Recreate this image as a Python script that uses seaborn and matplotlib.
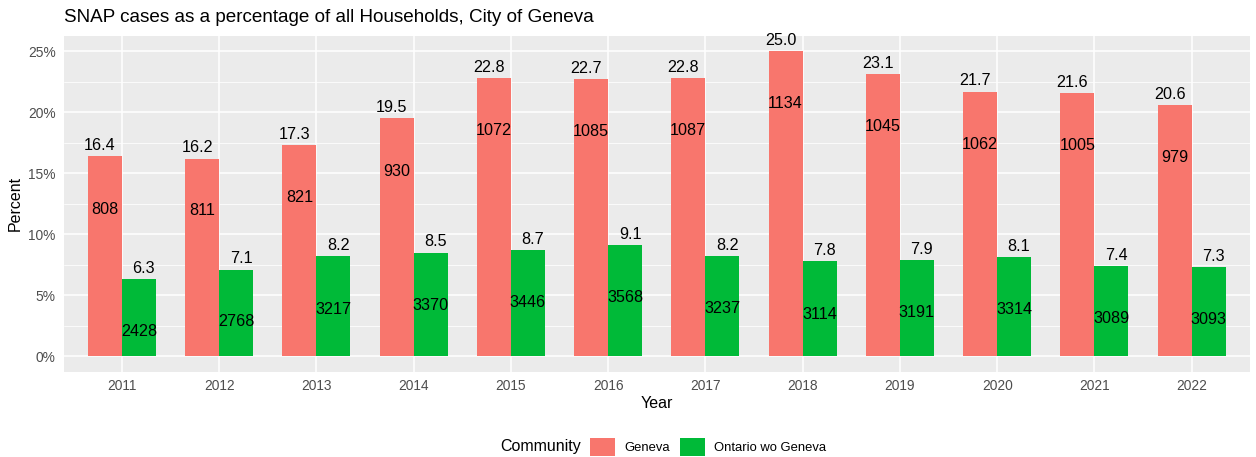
import matplotlib
matplotlib.use("Agg")
import matplotlib.pyplot as plt
import matplotlib.patches as mpatches
import seaborn as sns
import pandas as pd
import numpy as np

years = ["2011", "2012", "2013", "2014", "2015", "2016", "2017", "2018", "2019", "2020", "2021", "2022"]
communities = ["Geneva", "Ontario wo Geneva"]
geneva_pct = [16.4, 16.2, 17.3, 19.5, 22.8, 22.7, 22.8, 25.0, 23.1, 21.7, 21.6, 20.6]
ontario_pct = [6.3, 7.1, 8.2, 8.5, 8.7, 9.1, 8.2, 7.8, 7.9, 8.1, 7.4, 7.3]
geneva_cases = [808, 811, 821, 930, 1072, 1085, 1087, 1134, 1045, 1062, 1005, 979]
ontario_cases = [2428, 2768, 3217, 3370, 3446, 3568, 3237, 3114, 3191, 3314, 3089, 3093]
# vertical position (in percent units) at which each case-count label sits
geneva_case_label_y = [12.05, 11.91, 12.98, 15.16, 18.52, 18.39, 18.52, 20.71, 18.80, 17.38, 17.30, 16.25]
ontario_case_label_y = [1.99, 2.81, 3.85, 4.18, 4.37, 4.81, 3.91, 3.44, 3.55, 3.83, 3.09, 3.01]
y_ticks = [0, 5, 10, 15, 20, 25]
y_tick_labels = ["0%", "5%", "10%", "15%", "20%", "25%"]

colors = {"Geneva": "#F8766D", "Ontario wo Geneva": "#00BA38"}

df = pd.DataFrame({
    "Year": years * 2,
    "Community": ["Geneva"] * len(years) + ["Ontario wo Geneva"] * len(years),
    "Percent": geneva_pct + ontario_pct,
    "Cases": geneva_cases + ontario_cases,
    "LabelY": geneva_case_label_y + ontario_case_label_y,
})

sns.set_theme(style="darkgrid")
plt.rcParams["font.family"] = ["Liberation Sans", "DejaVu Sans"]

W, H = 1256, 457
fig = plt.figure(figsize=(W / 100, H / 100), dpi=100)
ax = fig.add_axes([63.5 / W, (H - 371.5) / H, (1250 - 63.5) / W, (371.5 - 36) / H])
ax.set_facecolor("#EBEBEB")

sns.barplot(data=df, x="Year", y="Percent", hue="Community", order=years,
            hue_order=communities, palette=colors, width=0.7, saturation=1,
            linewidth=0, errorbar=None, ax=ax, legend=False, zorder=3)

ax.set_xlim(-0.6, len(years) - 0.4)
ax.set_ylim(-1.25, 26.25)
ax.set_yticks(y_ticks)
ax.set_yticklabels(y_tick_labels)
ax.set_yticks([2.5, 7.5, 12.5, 17.5, 22.5], minor=True)

ax.grid(True, which="major", color="white", linewidth=1.1, zorder=0)
ax.grid(True, which="minor", axis="y", color="white", linewidth=0.55, zorder=0)
ax.set_axisbelow(True)
for s in ax.spines.values():
    s.set_visible(False)
ax.tick_params(axis="both", which="major", length=3.3, width=1.0, color="#333333",
               labelcolor="#4D4D4D", labelsize=9.9, pad=2.2)
ax.tick_params(axis="both", which="minor", length=0)

ax.set_xlabel("Year", fontsize=11.5, color="black", labelpad=2)
ax.set_ylabel("Percent", fontsize=11.5, color="black", labelpad=4)

# text labels
off_pct = {"Geneva": -0.225, "Ontario wo Geneva": 0.225}
off_bar = {"Geneva": -0.175, "Ontario wo Geneva": 0.175}
for _, r in df.iterrows():
    i = years.index(r["Year"])
    ax.annotate(f"{r['Percent']:.1f}", (i + off_pct[r["Community"]], r["Percent"]),
                xytext=(0, 2.3), textcoords="offset points", ha="center", va="bottom",
                fontsize=11.6, color="black", zorder=5, annotation_clip=False)
    ax.text(i + off_bar[r["Community"]], r["LabelY"], f"{r['Cases']}", ha="center",
            va="center", fontsize=11.6, color="black", zorder=5)

fig.text(64 / W, 1 - 18 / H, "SNAP cases as a percentage of all Households, City of Geneva",
         fontsize=13.6, color="black", ha="left", va="center")

# legend
fig.text(500 / W, 1 - 447 / H, "Community", fontsize=11.5, color="black", ha="left", va="center")
handles = [mpatches.Patch(facecolor=colors[c], edgecolor="none", label=c) for c in communities]
leg = fig.legend(handles=handles, loc="center left", bbox_to_anchor=(590 / W, 1 - 447 / H),
                 ncol=2, frameon=False, fontsize=9.4, handlelength=1.9, handleheight=1.75,
                 handletextpad=0.7, columnspacing=0.8, borderpad=0, borderaxespad=0)
for t in leg.get_texts():
    t.set_color("black")

fig.savefig("out.png", dpi=100, facecolor="white")
